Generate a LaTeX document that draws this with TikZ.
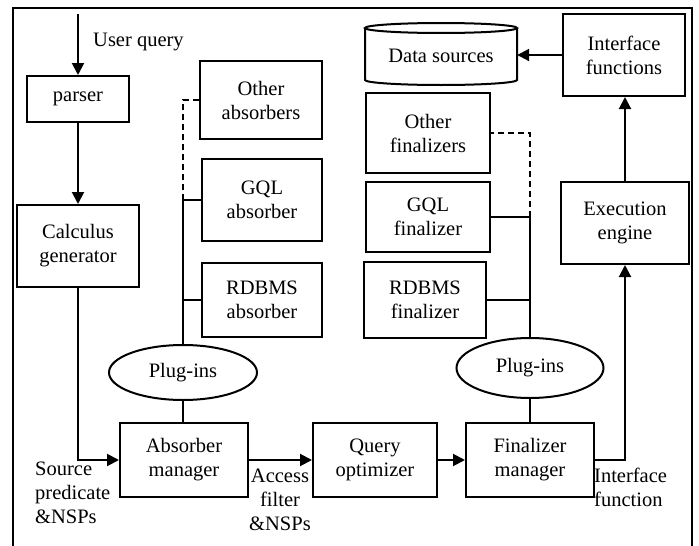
\documentclass[tikz,border=0pt]{standalone}
\usepackage{fontspec}
\setmainfont{Liberation Serif}
\usetikzlibrary{arrows.meta,shapes.geometric}
\tikzset{
  box/.style={draw,rectangle,inner sep=0pt,align=center,line width=2pt},
  plug/.style={draw,ellipse,inner sep=0pt,line width=2pt},
  conn/.style={line width=2pt},
  arr/.style={line width=2pt,-{Triangle[length=12pt,width=12pt]}},
  dconn/.style={line width=2pt,dash pattern=on 6pt off 4pt},
  lbl/.style={inner sep=0pt}
}
\begin{document}
\begin{tikzpicture}[x=1pt,y=-1pt,font=\fontsize{20.5}{24}\selectfont]
\useasboundingbox (0,0) rectangle (699,546);
% frame
\draw[line width=2pt] (13,546) -- (13,8) -- (692,8) -- (692,546);
% nodes
\node[box,minimum width=102pt,minimum height=46pt] (parser) at (78,99) {parser};
\node[box,minimum width=122pt,minimum height=82pt] (calc) at (78,246) {Calculus\\generator};
\node[box,minimum width=122pt,minimum height=78pt] (oabs) at (261,100) {Other\\absorbers};
\node[box,minimum width=120pt,minimum height=82pt] (gabs) at (262,200) {GQL\\absorber};
\node[box,minimum width=120pt,minimum height=74pt] (rabs) at (262,300) {RDBMS\\absorber};
\node[plug,minimum width=148pt,minimum height=55pt] (plug1) at (183,372.5) {Plug-ins};
\node[box,minimum width=128pt,minimum height=74pt] (absm) at (184,460) {Absorber\\manager};
\node[box,minimum width=124pt,minimum height=74pt] (qopt) at (375,460) {Query\\optimizer};
\node[box,minimum width=128pt,minimum height=74pt] (finm) at (530,460) {Finalizer\\manager};
\node[plug,minimum width=147pt,minimum height=60pt] (plug2) at (530,368) {Plug-ins};
\node[box,minimum width=124pt,minimum height=80pt] (ofin) at (428,133) {Other\\finalizers};
\node[box,minimum width=124pt,minimum height=70pt] (gfin) at (428,217) {GQL\\finalizer};
\node[box,minimum width=122pt,minimum height=76pt] (rfin) at (425,300) {RDBMS\\finalizer};
\node[box,minimum width=128pt,minimum height=82pt] (exe) at (625,223) {Execution\\engine};
\node[box,minimum width=122pt,minimum height=82pt] (ifun) at (624,55) {Interface\\functions};
% data sources cylinder
\draw[line width=2pt] (365,28) -- (365,80) arc[start angle=180,end angle=360,x radius=76pt,y radius=5pt] -- (517,28);
\draw[line width=2pt] (441,28) ellipse[x radius=76pt,y radius=5pt];
\node[inner sep=0pt,minimum width=152pt,minimum height=62pt] (data) at (441,56) {Data sources};
% labels
\node[lbl,anchor=west] (uql) at (93,42) {User query};
\node[lbl,anchor=west,align=left] (spl) at (35,493) {Source\\predicate\\\&NSPs};
\node[lbl,align=center] (afl) at (280,500) {Access\\filter\\\&NSPs};
\node[lbl,anchor=west,align=left] (ifl) at (594,487) {Interface\\function};
% connectors
\coordinate (uq) at (78,14);
\draw[arr] (uq) -- (parser.north);
\draw[arr] (parser.south) -- (calc.north);
\draw[arr] (calc.south) |- (absm.west);
\draw[arr] (absm.east) -- (qopt.west);
\draw[arr] (qopt.east) -- (finm.west);
\draw[arr] (finm.east) -| (exe.south);
\draw[arr] (exe.north) -- (exe.north |- ifun.south);
\draw[arr] (ifun.west) -- (data.east |- ifun.west);
% plug-in trees left
\coordinate (j1) at (plug1.north |- gabs.west);
\coordinate (j2) at (plug1.north |- rabs.west);
\draw[conn] (plug1.south) -- (absm.north -| plug1.south);
\draw[conn] (plug1.north) -- (j1) -- (gabs.west);
\draw[conn] (j2) -- (rabs.west);
\draw[dconn] (j1) |- (oabs.west);
% plug-in trees right
\coordinate (k1) at (plug2.north |- gfin.east);
\coordinate (k2) at (plug2.north |- rfin.east);
\draw[conn] (plug2.south) -- (finm.north);
\draw[conn] (plug2.north) -- (k1) -- (gfin.east);
\draw[conn] (k2) -- (rfin.east);
\draw[dconn] (k1) |- (ofin.east);
\end{tikzpicture}
\end{document}
